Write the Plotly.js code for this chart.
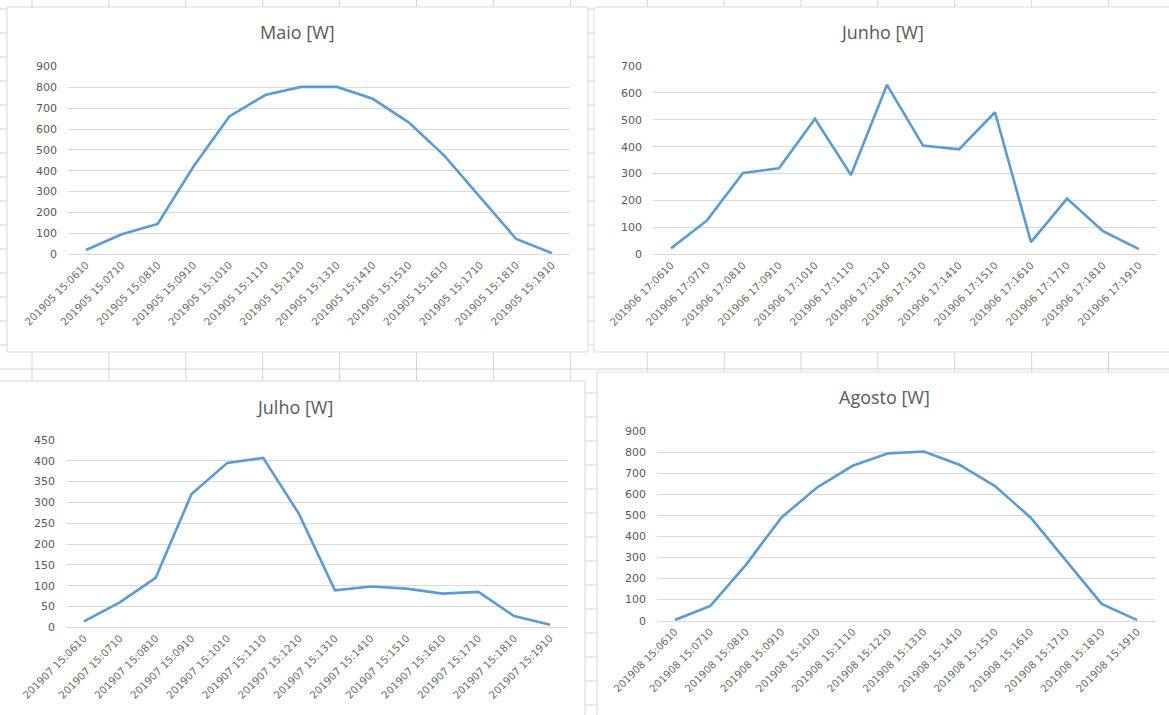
<!DOCTYPE html>
<html>
<head>
<meta charset="utf-8">
<script src="https://cdn.plot.ly/plotly-3.0.1.min.js"></script>
<style>
html,body{margin:0;padding:0;background:#ffffff;}
#chart{width:1169px;height:715px;}
</style>
</head>
<body>
<div id="chart"></div>
<script>
// ---- data ----
const maioLabels = ["201905 15:0610","201905 15:0710","201905 15:0810","201905 15:0910","201905 15:1010","201905 15:1110","201905 15:1210","201905 15:1310","201905 15:1410","201905 15:1510","201905 15:1610","201905 15:1710","201905 15:1810","201905 15:1910"];
const maioValues = [19, 95, 144, 420, 660, 763, 802, 802, 745, 632, 471, 270, 72, 4];

const junhoLabels = ["201906 17:0610","201906 17:0710","201906 17:0810","201906 17:0910","201906 17:1010","201906 17:1110","201906 17:1210","201906 17:1310","201906 17:1410","201906 17:1510","201906 17:1610","201906 17:1710","201906 17:1810","201906 17:1910"];
const junhoValues = [22, 126, 302, 320, 504, 295, 630, 404, 390, 528, 45, 207, 86, 19];

const julhoLabels = ["201907 15:0610","201907 15:0710","201907 15:0810","201907 15:0910","201907 15:1010","201907 15:1110","201907 15:1210","201907 15:1310","201907 15:1410","201907 15:1510","201907 15:1610","201907 15:1710","201907 15:1810","201907 15:1910"];
const julhoValues = [14, 60, 119, 320, 395, 407, 272, 89, 98, 93, 81, 85, 27, 6];

const agostoLabels = ["201908 15:0610","201908 15:0710","201908 15:0810","201908 15:0910","201908 15:1010","201908 15:1110","201908 15:1210","201908 15:1310","201908 15:1410","201908 15:1510","201908 15:1610","201908 15:1710","201908 15:1810","201908 15:1910"];
const agostoValues = [3, 70, 265, 490, 632, 735, 794, 803, 740, 639, 490, 287, 80, 3];

const titles = ["Maio [W]", "Junho [W]", "Julho [W]", "Agosto [W]"];

// ---- layout helpers ----
const W = 1169, H = 715;
function fx(x){ return x / W; }
function fy(y){ return 1 - y / H; }

const LINE = '#5b9bd5';
const GRID = '#d9d9d9';
const TXT = '#595959';

function trace(labels, values, n){
  return {
    type: 'scatter', mode: 'lines',
    x: labels, y: values,
    xaxis: 'x' + (n === 1 ? '' : n), yaxis: 'y' + (n === 1 ? '' : n),
    line: {color: LINE, width: 2.6, shape: 'linear'},
    hoverinfo: 'skip', showlegend: false
  };
}

function xax(n, x0, x1){
  return {
    domain: [fx(x0), fx(x1)], anchor: 'y' + (n === 1 ? '' : n),
    type: 'category', range: [-0.5, 13.5],
    tickangle: -45, showgrid: false, zeroline: false,
    showline: true, linecolor: GRID, linewidth: 1,
    ticks: '', automargin: false, fixedrange: true,
    tickfont: {family: 'DejaVu Sans', size: 10.3, color: '#6a6a6a'}
  };
}
function yax(n, ybottom, ytop, max, dtick){
  return {
    domain: [fy(ybottom), fy(ytop)], anchor: 'x' + (n === 1 ? '' : n),
    range: [0, max], dtick: dtick, tick0: 0,
    showgrid: true, gridcolor: GRID, gridwidth: 1,
    zeroline: false, showline: false, ticks: '',
    ticklabelstandoff: 10, automargin: false, fixedrange: true,
    tickfont: {family: 'DejaVu Sans', size: 11, color: TXT}
  };
}

// ---- background spreadsheet grid + chart panels ----
const shapes = [];
for (let x = 32; x < W; x += 76.9){
  shapes.push({type:'line', xref:'paper', yref:'paper', x0:fx(x), x1:fx(x), y0:0, y1:1,
    line:{color:'#d4d4d4', width:1}, layer:'below'});
}
for (let y = 9; y < H; y += 24){
  shapes.push({type:'line', xref:'paper', yref:'paper', x0:0, x1:1, y0:fy(y), y1:fy(y),
    line:{color:'#d4d4d4', width:1}, layer:'below'});
}
const panels = [[7,7,588,352],[594,7,1175,352],[-5,381,585,720],[597,372,1175,720]];
panels.forEach(p => {
  shapes.push({type:'rect', xref:'paper', yref:'paper', x0:fx(p[0]), x1:fx(p[2]), y0:fy(p[3]), y1:fy(p[1]),
    fillcolor:'#ffffff', line:{color:GRID, width:1}, layer:'below'});
});

const titlePos = [[297,32],[882,32],[294,407],[884,397]];
const annotations = titles.map((t, i) => ({
  text: t, xref:'paper', yref:'paper', x: fx(titlePos[i][0]), y: fy(titlePos[i][1]),
  xanchor:'center', yanchor:'middle', showarrow:false,
  font:{family:'Open Sans', size:18, color:TXT}
}));

const data = [
  trace(maioLabels, maioValues, 1),
  trace(junhoLabels, junhoValues, 2),
  trace(julhoLabels, julhoValues, 3),
  trace(agostoLabels, agostoValues, 4)
];

const layout = {
  width: W, height: H,
  margin: {l:0, r:0, t:0, b:0},
  paper_bgcolor: '#ffffff', plot_bgcolor: 'rgba(0,0,0,0)',
  showlegend: false,
  xaxis: xax(1, 68, 570), yaxis: yax(1, 254, 66.5, 900, 100),
  xaxis2: xax(2, 653, 1157), yaxis2: yax(2, 254.3, 66, 700, 100),
  xaxis3: xax(3, 66, 568), yaxis3: yax(3, 627.3, 440, 450, 50),
  xaxis4: xax(4, 657, 1155), yaxis4: yax(4, 620.7, 431, 900, 100),
  shapes: shapes,
  annotations: annotations
};

Plotly.newPlot('chart', data, layout, {displayModeBar:false, staticPlot:true});
</script>
</body>
</html>
